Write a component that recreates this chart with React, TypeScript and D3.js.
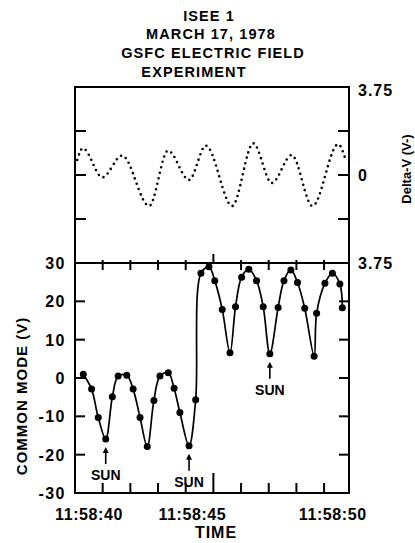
import React, { useRef, useEffect } from "react";
import * as d3 from "d3";

// title block
const titleLines = ["ISEE 1", "MARCH 17, 1978", "GSFC ELECTRIC FIELD", "EXPERIMENT"];

// common mode samples (seconds past 11:58:00, volts)
const cmTimes = [
  40.3, 40.6, 40.84, 41.11, 41.35, 41.56, 41.87, 42.1, 42.35, 42.61, 42.85, 43.07,
  43.37, 43.58, 43.79, 44.12, 44.36, 44.55, 44.84, 45.05, 45.32, 45.6, 45.8, 46.02,
  46.28, 46.56, 46.8, 47.04, 47.34, 47.55, 47.8, 48.04, 48.3, 48.64, 48.73, 49.03,
  49.3, 49.57, 49.66,
];
const cmVolts = [
  1.0, -2.9, -10.3, -15.9, -4.9, 0.5, 0.7, -2.9, -10.3, -17.9, -5.9, 0.5,
  1.4, -2.7, -9.0, -17.7, -5.7, 27.3, 29.0, 25.4, 17.9, 6.6, 18.6, 26.3,
  28.4, 25.4, 18.6, 6.3, 18.4, 25.4, 28.2, 24.9, 18.2, 5.7, 16.9, 24.7,
  27.3, 24.5, 18.3,
];

// delta-V turning points (seconds, volts)
const dvTimes = [40.08, 40.28, 40.99, 41.7, 42.68, 43.36, 44.12, 44.73, 45.68, 46.44, 47.11, 47.83, 48.58, 49.51, 49.78];
const dvVolts = [0.64, 1.14, -0.1, 0.83, -1.32, 1.04, -0.21, 1.25, -1.32, 1.35, -0.34, 0.85, -1.32, 1.31, 0.64];

// sun pulses
const sunTimes = [41.11, 44.12, 47.04];

// axes
const cmTicks = [-30, -20, -10, 0, 10, 20, 30];
const dvTicks = [-1.875, 0, 1.875];
const dvLabelValues = [3.75, 0, -3.75];
const dvLabelText = ["3.75", "0", "3.75"];
const timeTicks = [41, 42, 43, 44, 45, 46, 47, 48, 49];
const timeLabelSecs = [40, 45, 50];
const timeLabels = ["11:58:40", "11:58:45", "11:58:50"];

const W = 415;
const H = 543;
const FONT = "'Liberation Sans', Arial, sans-serif";

export default function App() {
  const svgRef = useRef<SVGSVGElement>(null);

  useEffect(() => {
    const left = 75, right = 349, top = 87, mid = 263, bottom = 493;

    const x = d3.scaleLinear().domain([40, 49.9]).range([left, right]);
    const yCm = d3.scaleLinear().domain([-30, 30]).range([bottom, mid]);
    const yDv = d3.scaleLinear().domain([-3.75, 3.75]).range([mid, top]);

    const svg = d3.select(svgRef.current);
    svg.selectAll("*").remove();

    const g = svg.append("g").style("font-family", FONT).style("font-weight", "bold");

    // title
    const titleNudge = [-2, 0, 2, -17];
    g.append("g")
      .selectAll("text")
      .data(titleLines)
      .join("text")
      .attr("x", (d, i) => 211 + titleNudge[i])
      .attr("y", (d, i) => 20.7 + i * 18.6)
      .attr("text-anchor", "middle")
      .style("font-size", "14.5px")
      .style("letter-spacing", "1.1px")
      .text((d) => d);

    // frames
    g.append("rect")
      .attr("x", left).attr("y", top)
      .attr("width", right - left).attr("height", bottom - top)
      .attr("fill", "none").attr("stroke", "#000").attr("stroke-width", 2);
    g.append("line")
      .attr("x1", left).attr("x2", right).attr("y1", mid).attr("y2", mid)
      .attr("stroke", "#000").attr("stroke-width", 2);

    const ticks = g.append("g").attr("stroke", "#000").attr("stroke-width", 2);

    // top panel ticks, both sides, pointing in
    dvTicks.forEach((v) => {
      ticks.append("line").attr("x1", left).attr("x2", left + 11).attr("y1", yDv(v)).attr("y2", yDv(v));
      ticks.append("line").attr("x1", right - 11).attr("x2", right).attr("y1", yDv(v)).attr("y2", yDv(v));
    });

    // bottom panel ticks
    cmTicks.slice(1, -1).forEach((v) => {
      ticks.append("line").attr("x1", left).attr("x2", left + 10).attr("y1", yCm(v)).attr("y2", yCm(v));
      ticks.append("line").attr("x1", right - 10).attr("x2", right).attr("y1", yCm(v)).attr("y2", yCm(v));
    });

    // time ticks on the divider and on the bottom edge
    timeTicks.forEach((t) => {
      const major = t % 5 === 0;
      if (major) {
        ticks.append("line").attr("x1", x(t)).attr("x2", x(t)).attr("y1", mid - 9).attr("y2", mid);
      } else {
        ticks.append("line").attr("x1", x(t)).attr("x2", x(t)).attr("y1", mid - 3).attr("y2", mid + 7);
      }
      ticks.append("line").attr("x1", x(t)).attr("x2", x(t))
        .attr("y1", bottom - (major ? 20 : 10)).attr("y2", bottom);
    });

    // left tick labels
    g.append("g")
      .selectAll("text")
      .data(cmTicks)
      .join("text")
      .attr("x", 66)
      .attr("y", (d) => yCm(d) + 6)
      .attr("text-anchor", "end")
      .style("font-size", "16px")
      .style("letter-spacing", "1.5px")
      .text((d) => String(d));

    // right tick labels
    g.append("g")
      .selectAll("text")
      .data(dvLabelValues)
      .join("text")
      .attr("x", 358)
      .attr("y", (d) => Math.max(yDv(d) + 6, top + 8.5))
      .style("font-size", "16px")
      .style("letter-spacing", "1px")
      .text((d, i) => dvLabelText[i]);

    // time labels
    const timeNudge = [14, -21, -19];
    g.append("g")
      .selectAll("text")
      .data(timeLabels)
      .join("text")
      .attr("x", (d, i) => x(timeLabelSecs[i]) + timeNudge[i])
      .attr("y", 520)
      .attr("text-anchor", "middle")
      .style("font-size", "16px")
      .style("letter-spacing", "0.6px")
      .text((d) => d);

    // axis titles
    g.append("text")
      .attr("x", 216).attr("y", 538)
      .attr("text-anchor", "middle")
      .style("font-size", "16px")
      .style("letter-spacing", "1px")
      .text("TIME");
    g.append("text")
      .attr("transform", "translate(27,396) rotate(-90)")
      .attr("text-anchor", "middle")
      .style("font-size", "15px")
      .style("letter-spacing", "1px")
      .text("COMMON MODE  (V)");
    g.append("text")
      .attr("transform", "translate(411,169) rotate(-90)")
      .attr("text-anchor", "middle")
      .style("font-size", "13px")
      .text("Delta-V (V-)");

    // delta-V, dotted
    const dv = dvTimes.map((t, i) => [t, dvVolts[i]] as [number, number]);
    g.append("path")
      .datum(dv)
      .attr("d", d3.line<[number, number]>()
        .x((d) => x(d[0]))
        .y((d) => yDv(d[1]))
        .curve(d3.curveMonotoneX))
      .attr("fill", "none")
      .attr("stroke", "#000")
      .attr("stroke-width", 2.6)
      .attr("stroke-linecap", "round")
      .attr("stroke-dasharray", "0 5.6");

    // common mode, line + dots
    const cm = cmTimes.map((t, i) => [t, cmVolts[i]] as [number, number]);
    g.append("path")
      .datum(cm)
      .attr("d", d3.line<[number, number]>()
        .x((d) => x(d[0]))
        .y((d) => yCm(d[1]))
        .curve(d3.curveCatmullRom.alpha(0.5)))
      .attr("fill", "none")
      .attr("stroke", "#000")
      .attr("stroke-width", 1.7);
    g.append("g")
      .selectAll("circle")
      .data(cm)
      .join("circle")
      .attr("cx", (d) => x(d[0]))
      .attr("cy", (d) => yCm(d[1]))
      .attr("r", 3.5)
      .attr("fill", "#000");

    // sun markers
    const sun = g.append("g");
    sunTimes.forEach((t) => {
      const p = cm.reduce((a, b) => (Math.abs(b[0] - t) < Math.abs(a[0] - t) ? b : a));
      const px = x(p[0]);
      const tip = yCm(p[1]) + 8;
      sun.append("line")
        .attr("x1", px).attr("x2", px).attr("y1", tip + 3).attr("y2", tip + 17)
        .attr("stroke", "#000").attr("stroke-width", 1.6);
      sun.append("path")
        .attr("d", `M${px},${tip} L${px - 3},${tip + 6} L${px + 3},${tip + 6} Z`)
        .attr("fill", "#000");
      sun.append("text")
        .attr("x", px).attr("y", tip + 33)
        .attr("text-anchor", "middle")
        .style("font-size", "14px")
        .text("SUN");
    });
  }, []);

  return (
    <svg
      ref={svgRef}
      width={W}
      height={H}
      style={{ position: "absolute", left: 0, top: 0, background: "#fff" }}
    ></svg>
  );
}
